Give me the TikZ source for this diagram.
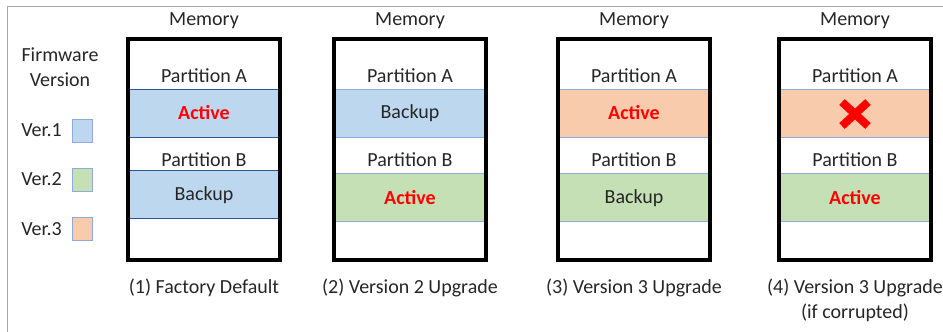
\documentclass[tikz,border=0pt]{standalone}
\usepackage{fontspec}
\setmainfont{Carlito}
\definecolor{vone}{HTML}{BDD7EE}
\definecolor{vtwo}{HTML}{C5E0B4}
\definecolor{vthree}{HTML}{F8CBAD}
\definecolor{bandline}{HTML}{8FAADC}
\definecolor{bandlinedark}{HTML}{2F5597}
\definecolor{framegray}{HTML}{A6A6A6}
\definecolor{txt}{HTML}{262626}
\definecolor{actred}{HTML}{FF0000}
\begin{document}
\begin{tikzpicture}[x=1pt,y=-1pt,
  lbl/.style={font=\fontsize{20}{24}\selectfont, text=txt, inner sep=0pt, anchor=center},
  act/.style={font=\fontsize{20}{24}\selectfont\bfseries, text=actred, inner sep=0pt, anchor=center},
  membox/.style={draw=black, line width=4pt},
  legsq/.style={draw=bandline, line width=1pt}]
\useasboundingbox (0,0) rectangle (943,332);
\begin{scope}
\clip (0,0) rectangle (943,332);
\draw[framegray, line width=1.5pt] (7.5,345) -- (7.5,6.5) -- (960,6.5);
\end{scope}
% legend
\node[lbl] (fw) at (60,55) {Firmware};
\node[lbl] (fv) at (60,80) {Version};
\node[lbl, anchor=east] (l1) at (62,130) {Ver.1};
\node[lbl, anchor=east] (l2) at (62,179) {Ver.2};
\node[lbl, anchor=east] (l3) at (62,229) {Ver.3};
\draw[legsq, fill=vone] (72,119) rectangle (92,142);
\draw[legsq, fill=vtwo] (72,168) rectangle (92,191);
\draw[legsq, fill=vthree] (72,217) rectangle (92,240);
% box 1
\draw[bandlinedark, line width=1pt, fill=vone] (128,89) rectangle (280,137);
\draw[bandlinedark, line width=1pt, fill=vone] (128,170) rectangle (280,218);
\draw[membox] (128,39) rectangle (280,260);
\node[lbl] (m1) at (204,21) {Memory};
\node[lbl] (pa1) at (204,76) {Partition A};
\node[act] (a1) at (204,113) {Active};
\node[lbl] (pb1) at (204,160) {Partition B};
\node[lbl] (b1) at (204,195) {Backup};
\node[lbl] (c1) at (204,288) {(1) Factory Default};
% box 2
\draw[bandline, line width=1pt, fill=vone] (334,89) rectangle (486,137);
\draw[bandline, line width=1pt, fill=vtwo] (334,173) rectangle (486,221);
\draw[membox] (334,39) rectangle (486,260);
\node[lbl] (m2) at (410,21) {Memory};
\node[lbl] (pa2) at (410,76) {Partition A};
\node[lbl] (b2) at (410,113) {Backup};
\node[lbl] (pb2) at (410,160) {Partition B};
\node[act] (a2) at (410,198) {Active};
\node[lbl] (c2) at (410,288) {(2) Version 2 Upgrade};
% box 3
\draw[bandline, line width=1pt, fill=vthree] (558,89) rectangle (710,137);
\draw[bandline, line width=1pt, fill=vtwo] (558,173) rectangle (710,221);
\draw[membox] (558,39) rectangle (710,260);
\node[lbl] (m3) at (634,21) {Memory};
\node[lbl] (pa3) at (634,76) {Partition A};
\node[act] (a3) at (634,113) {Active};
\node[lbl] (pb3) at (634,160) {Partition B};
\node[lbl] (b3) at (634,198) {Backup};
\node[lbl] (c3) at (634,288) {(3) Version 3 Upgrade};
% box 4
\draw[bandline, line width=1pt, fill=vthree] (779,89) rectangle (931,137);
\draw[bandline, line width=1pt, fill=vtwo] (779,173) rectangle (931,221);
\draw[membox] (779,39) rectangle (931,260);
\node[lbl] (m4) at (855,21) {Memory};
\node[lbl] (pa4) at (855,76) {Partition A};
\node[lbl] (pb4) at (855,160) {Partition B};
\node[act] (a4) at (855,198) {Active};
\node[lbl] (c4) at (855,288) {(4) Version 3 Upgrade};
\node[lbl] (c4b) at (855,313) {(if corrupted)};
\coordinate (xc) at (855,114);
\draw[actred, line width=8pt] ([shift={(-13,-12)}]xc) -- ([shift={(13,12)}]xc);
\draw[actred, line width=8pt] ([shift={(13,-12)}]xc) -- ([shift={(-13,12)}]xc);
\end{tikzpicture}
\end{document}
